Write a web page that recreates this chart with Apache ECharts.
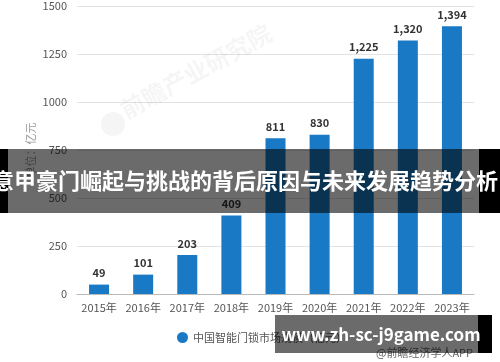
<!DOCTYPE html>
<html><head><meta charset="utf-8">
<script src="https://cdn.jsdelivr.net/npm/echarts@6/dist/echarts.min.js"></script>
<style>html,body{margin:0;padding:0;background:#fff}#c{width:500px;height:362px}</style>
</head><body><div id="c"></div>
<script>
const categories = ['2015年','2016年','2017年','2018年','2019年','2020年','2021年','2022年','2023年'];
const marketSize = [49, 101, 203, 409, 811, 830, 1225, 1320, 1394];
const yTicks = [0, 250, 500, 750, 1000, 1250, 1500];
const seriesName = '中国智能门锁市场规模（亿元）';
const yAxisName = '单位：亿元';
const bannerText = '意甲豪门崛起与挑战的背后原因与未来发展趋势分析';
const siteText = 'www.zh-sc-j9game.com';
const sourceText = '@前瞻经济学人APP';
const logoText = '前瞻产业研究院';

const chart = echarts.init(document.getElementById('c'), null, {renderer: 'canvas'});
const font = '"Microsoft YaHei","Noto Sans CJK SC",sans-serif';
chart.setOption({
  animation: false,
  textStyle: {fontFamily: font},
  grid: {left: 77, right: 26, top: 6, bottom: 68},
  legend: {
    data: [seriesName], left: 172, top: 327, icon: 'circle', itemWidth: 11, itemHeight: 11, itemGap: 6,
    textStyle: {color: '#555', fontSize: 11, fontFamily: font}
  },
  xAxis: {
    type: 'category', data: categories,
    axisLine: {lineStyle: {color: '#bbb'}}, axisTick: {show: false},
    axisLabel: {color: '#555', fontSize: 11, margin: 8, interval: 0}
  },
  yAxis: {
    type: 'value', min: yTicks[0], max: yTicks[yTicks.length - 1], interval: 250,
    axisLine: {show: false}, axisTick: {show: false},
    axisLabel: {color: '#555', fontSize: 11, margin: 10, formatter: v => String(v)},
    splitLine: {lineStyle: {color: '#e3e3e3'}}
  },
  series: [{
    name: seriesName, type: 'bar', data: marketSize, barWidth: 20,
    itemStyle: {color: '#1a79c4'},
    label: {show: true, position: 'top', color: '#333', fontWeight: 'bold', fontSize: 11, distance: 6,
      formatter: p => p.value.toLocaleString('en-US')}
  }],
  graphic: [
    {type: 'text', x: 31, y: 150, rotation: Math.PI / 2, z: 5, silent: true,
      style: {text: yAxisName, fill: '#999', font: '11px ' + font, align: 'center', verticalAlign: 'middle'}},
    {type: 'circle', shape: {cx: 113, cy: 124, r: 12}, style: {fill: 'rgba(0,0,0,0.04)'}, z: 1, silent: true},
    {type: 'text', x: 128, y: 122, rotation: 0.5, z: 1, silent: true,
      style: {text: logoText, fill: 'rgba(0,0,0,0.04)', font: 'bold 24px ' + font, verticalAlign: 'bottom'}},
    {type: 'rect', shape: {x: 0, y: 149, width: 8, height: 64}, style: {fill: '#000'}, z: 100},
    {type: 'rect', shape: {x: 479, y: 149, width: 21, height: 64}, style: {fill: '#000'}, z: 100},
    {type: 'rect', shape: {x: 8, y: 149, width: 471, height: 64}, style: {fill: 'rgba(0,0,0,0.58)'}, z: 100},
    {type: 'text', x: 245, y: 181, z: 102, style: {text: bannerText, fill: '#fff', font: 'bold 22px ' + font, align: 'center', verticalAlign: 'middle'}},
    {type: 'text', x: 473, y: 353, z: 50, style: {text: sourceText, fill: '#666', font: '11px ' + font, align: 'right', verticalAlign: 'middle'}},
    {type: 'rect', shape: {x: 478, y: 315, width: 14, height: 38}, style: {fill: '#000'}, z: 100},
    {type: 'rect', shape: {x: 275, y: 315, width: 203, height: 38}, style: {fill: 'rgba(0,0,0,0.58)'}, z: 100},
    {type: 'text', x: 381, y: 335, z: 102, style: {text: siteText, fill: '#fff', font: 'bold 17px ' + font, align: 'center', verticalAlign: 'middle'}}
  ]
});
</script></body></html>
